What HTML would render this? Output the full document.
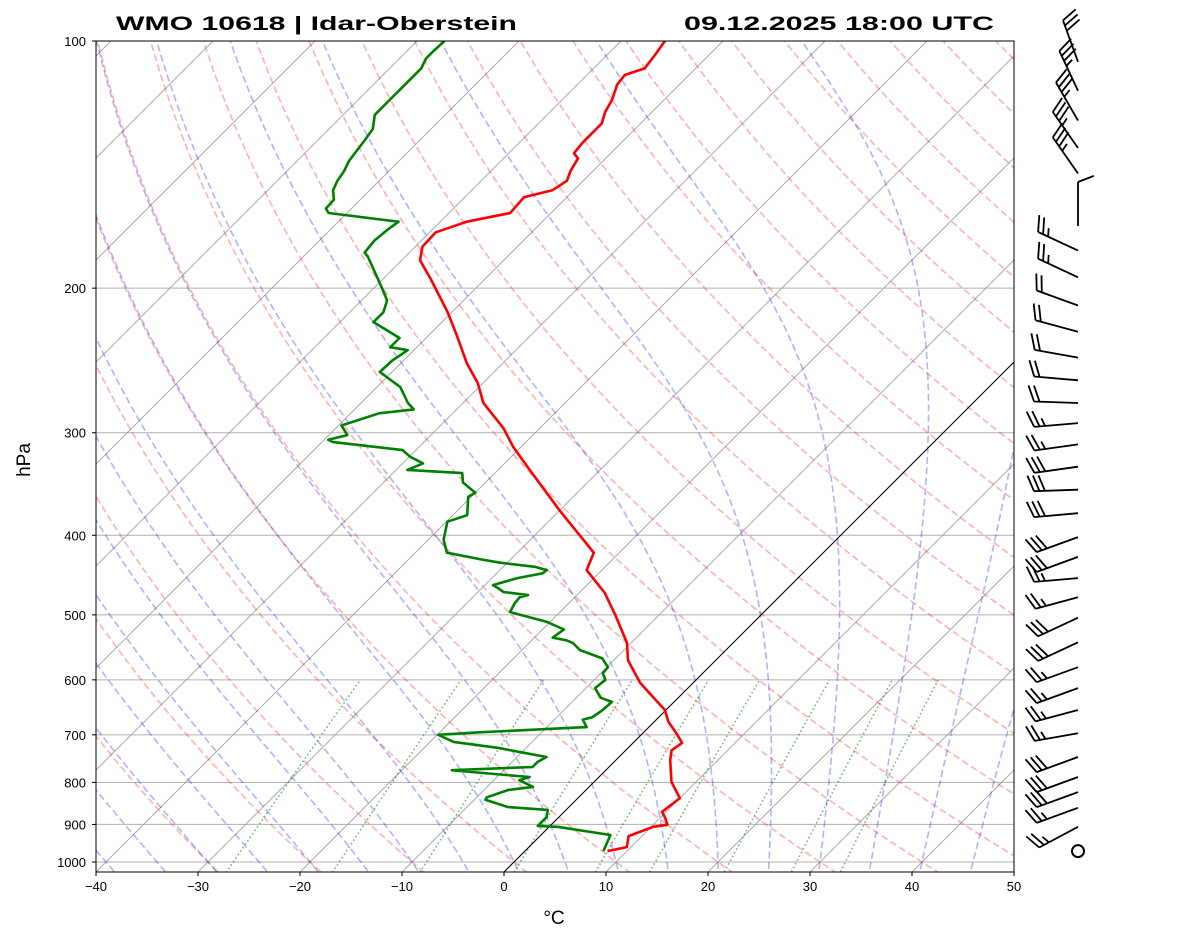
<!DOCTYPE html>
<html><head><meta charset="utf-8"><title>Skew-T WMO 10618</title>
<style>html,body{margin:0;padding:0;background:#fff;}svg{display:block;font-family:"Liberation Sans",sans-serif;}</style>
</head><body>
<svg id="chart" xmlns="http://www.w3.org/2000/svg" width="1181" height="941" viewBox="0 0 1181 941">
<defs><clipPath id="plotclip"><rect x="96" y="41" width="918" height="831"/></clipPath></defs>
<rect x="0" y="0" width="1181" height="941" fill="#fff"/>
<g id="bg" clip-path="url(#plotclip)"></g>
<g id="profiles" clip-path="url(#plotclip)"></g>
<rect x="96" y="41" width="918" height="831" fill="none" stroke="#000" stroke-width="1"/>
<g id="axes"></g>
<g id="barbs"></g>
<text x="116" y="30" font-size="19" font-weight="bold" textLength="401" lengthAdjust="spacingAndGlyphs">WMO 10618 | Idar-Oberstein</text>
<text x="994" y="30" font-size="19" font-weight="bold" text-anchor="end" textLength="310" lengthAdjust="spacingAndGlyphs">09.12.2025 18:00 UTC</text>
<text x="554" y="924" font-size="19" text-anchor="middle">°C</text>
<text x="0" y="0" font-size="19" text-anchor="middle" transform="translate(30,460) rotate(-90)">hPa</text>
</svg>
<script>
const tempP=[970,959,930,906,901,882,869,836,799,751,731,716,697,675,653,630,605,568,541,500,470,441,420,405,373,333,312,296,276,261,247,229,214,195,185,178,171,166,162,155,152,148,144,139,137,133,126,122,118,113,110,108,104,100];
const tempT=[8.1,9.6,8.7,10.2,11.4,10.4,9.6,10.0,7.6,5.3,4.5,4.8,3.3,1.4,-0.1,-2.5,-5.2,-8.6,-10.4,-14.3,-17.5,-21.5,-22.5,-24.8,-30.0,-36.9,-40.8,-43.6,-48.0,-50.5,-53.5,-57.1,-60.4,-65.3,-68.2,-69.3,-69.4,-67.4,-64.0,-64.2,-62.1,-61.6,-62.2,-62.7,-63.6,-63.8,-63.8,-64.6,-65.1,-66.1,-66.3,-65.0,-65.3,-65.7];
const dewP=[970,927,906,904,882,864,857,840,834,817,810,795,788,779,773,766,755,745,736,726,714,700,695,685,671,666,653,638,631,614,600,589,579,565,552,541,537,533,521,510,500,496,484,476,473,469,464,460,451,445,441,437,432,428,420,405,385,378,359,355,345,336,333,327,321,315,308,306,302,294,284,281,276,264,253,245,238,236,230,220,214,207,200,183,181,175,170,166,162,160,156,152,148,144,140,132,128,123,118,115,112,108,105,103,100];
const dewT=[7.7,6.8,0.8,-1.2,-1.2,-1.8,-6.0,-8.9,-9.0,-7.6,-5.5,-7.5,-6.8,-11.8,-15.1,-7.5,-7.5,-7.1,-9.8,-12.8,-17.7,-19.9,-16.1,-6.1,-7.2,-6.5,-6.2,-6.1,-7.6,-9.1,-8.9,-9.8,-9.9,-11.3,-14.3,-15.7,-16.6,-18.2,-17.9,-20.3,-23.6,-24.9,-25.3,-25.4,-24.8,-27.5,-28.4,-29.2,-27.5,-25.5,-25.4,-26.9,-30.7,-32.9,-36.9,-38.5,-39.9,-38.6,-40.3,-40.0,-42.2,-43.2,-48.9,-48.0,-49.9,-51.3,-58.9,-59.6,-58.2,-59.7,-57.2,-54.2,-55.4,-57.7,-61.2,-61.1,-60.6,-62.6,-62.6,-66.7,-66.7,-67.5,-69.2,-73.7,-74.4,-74.6,-74.4,-74.1,-81.8,-82.5,-82.6,-83.6,-84.1,-84.4,-84.9,-85.4,-85.7,-86.9,-86.9,-86.9,-86.9,-86.9,-87.4,-87.4,-87.3];
const barbP=[970,906,859,822,788,745,697,653,614,579,540,504,476,451,425,402,376,352,330,310,292,276,259,243,226,210,194,180,168,145,135,125,115,106];
const barbDir=[0,242,250,250,250,250,260,255,250,250,245,245,255,265,250,250,265,268,262,262,265,272,275,280,285,290,295,295,360,325,325,330,335,340];
const barbSpd=[0,25,25,30,30,30,25,25,25,25,30,30,25,25,30,30,30,30,30,25,25,20,20,20,20,20,25,25,10,35,35,35,35,30];
const xTicks=[-40,-30,-20,-10,0,10,20,30,40,50];
const yTicks=[100,200,300,400,500,600,700,800,900,1000];
const dryTheta0=[-30,-20,-10,0,10,20,30,40,50,60,70,80,90,100,110,120,130,140,150,160,170,180,190,200];
const moistT0=[-40,-35,-30,-25,-20,-15,-10,-5,0,5,10,15,20,25,30,35,40,45,50];
const mixW=[0.0004,0.001,0.002,0.004,0.007,0.01,0.016,0.024,0.032];

const NS='http://www.w3.org/2000/svg';
const X0=96,X1=1014,Y0=41,Y1=872;
function yOf(p){return 862-821*Math.log10(1000/p);}
function xOf(T,p){return X0+(T+40)*10.2+(Y1-yOf(p));}
function mk(tag,attrs,parent){const e=document.createElementNS(NS,tag);for(const k in attrs)e.setAttribute(k,attrs[k]);parent.appendChild(e);return e;}
function pathD(pts){return pts.map((q,i)=>(i?'L':'M')+q[0].toFixed(1)+','+q[1].toFixed(1)).join('');}
const bg=document.getElementById('bg'),prof=document.getElementById('profiles'),axes=document.getElementById('axes'),barbs=document.getElementById('barbs');

yTicks.forEach(p=>{const l=mk('line',{x1:X0,x2:X1,y1:yOf(p),y2:yOf(p),stroke:'#b0b0b0','stroke-width':1},bg);

});
for(let T=-140;T<=50;T+=10){const l=mk('line',{x1:xOf(T,1030),y1:yOf(1030),x2:xOf(T,90),y2:yOf(90),stroke:'#a0a0a0','stroke-width':0.9},bg);

}
dryTheta0.forEach(t0=>{const th=t0+273.15;const pts=[];for(let p=1050;p>=95;p-=10){pts.push([xOf(th*Math.pow(p/1000,0.2857)-273.15,p),yOf(p)]);}
const e=mk('path',{d:pathD(pts),fill:'none',stroke:'rgba(255,0,0,0.3)','stroke-width':1.6,'stroke-dasharray':'7,3.5'},bg);

});
function es(Tc){return 6.112*Math.exp(17.67*Tc/(Tc+243.5));}
function dTdp(T,p){const Tc=T-273.15;const e=es(Tc);const rs=0.622*e/(p-e);const Rd=287.04,Cp=1005.7,Lv=2.501e6;
return (Rd*T+Lv*rs)/(p*(Cp+Lv*Lv*rs*0.622/(Rd*T*T)));}
function integ(T,p0,p1,dp){const out=[];let p=p0;out.push([T,p]);while((dp<0&&p>p1)||(dp>0&&p<p1)){const k1=dTdp(T,p);const k2=dTdp(T+k1*dp,p+dp);T+=0.5*(k1+k2)*dp;p+=dp;out.push([T,p]);}return out;}
moistT0.forEach(t0=>{const up=integ(t0+273.15,1000,95,-5);const down=integ(t0+273.15,1000,1050,5).reverse();const all=down.concat(up.slice(1));
const e=mk('path',{d:pathD(all.map(q=>[xOf(q[0]-273.15,q[1]),yOf(q[1])])),fill:'none',stroke:'rgba(0,0,255,0.3)','stroke-width':1.6,'stroke-dasharray':'7,3.5'},bg);

});
mixW.forEach(w=>{const pts=[];for(let p=1050;p>=600;p-=10){const e=w*p/(0.622+w);const L=Math.log(e/6.112);const Td=243.5*L/(17.67-L);pts.push([xOf(Td,p),yOf(p)]);}
const e=mk('path',{d:pathD(pts),fill:'none',stroke:'rgba(0,128,0,0.55)','stroke-width':1.6,'stroke-dasharray':'1.6,2.6'},bg);

});
const z=mk('line',{x1:xOf(0,1030),y1:yOf(1030),x2:xOf(0,90),y2:yOf(90),stroke:'#000','stroke-width':1},bg);


const tp=mk('path',{d:pathD(tempP.map((p,i)=>[xOf(tempT[i],p),yOf(p)])),fill:'none',stroke:'#ff0000','stroke-width':2.6,'stroke-linejoin':'round'},prof);


const dp=mk('path',{d:pathD(dewP.map((p,i)=>[xOf(dewT[i],p),yOf(p)])),fill:'none',stroke:'#008000','stroke-width':2.6,'stroke-linejoin':'round'},prof);


xTicks.forEach(T=>{const x=X0+(T+40)*10.2;mk('line',{x1:x,x2:x,y1:Y1,y2:Y1+4,stroke:'#000'},axes);
const t=mk('text',{x:x,y:891,'font-size':13,'text-anchor':'middle'},axes);t.textContent=T<0?'\u2212'+(-T):String(T);

});
yTicks.forEach(p=>{const y=yOf(p);mk('line',{x1:X0-4,x2:X0,y1:y,y2:y,stroke:'#000'},axes);
const t=mk('text',{x:86,y:y+5,'font-size':13,'text-anchor':'end'},axes);t.textContent=String(p);

});
const BX=1078,SH=44,FL=17,SP=5.5;
barbP.forEach((p,i)=>{const y=yOf(p);const s=barbSpd[i];
if(s<2.5){const c=mk('circle',{cx:BX,cy:y,r:6,fill:'none',stroke:'#000','stroke-width':2},barbs);

return;}
const d=barbDir[i]*Math.PI/180;const ux=Math.sin(d),uy=-Math.cos(d);const px=-uy,py=ux;
const tx=BX+ux*SH,ty=y+uy*SH;let dd='M'+BX+','+y.toFixed(1)+'L'+tx.toFixed(1)+','+ty.toFixed(1);
let rem=Math.round(s/5)*5;let k=0;
while(rem>=10){const sx=tx-ux*SP*k,sy=ty-uy*SP*k;dd+='M'+sx.toFixed(1)+','+sy.toFixed(1)+'L'+(sx+px*FL*0.93+ux*FL*0.36).toFixed(1)+','+(sy+py*FL*0.93+uy*FL*0.36).toFixed(1);rem-=10;k++;}
if(rem>=5){if(k===0)k=1;const sx=tx-ux*SP*k,sy=ty-uy*SP*k;const h=FL/2;dd+='M'+sx.toFixed(1)+','+sy.toFixed(1)+'L'+(sx+px*h*0.93+ux*h*0.36).toFixed(1)+','+(sy+py*h*0.93+uy*h*0.36).toFixed(1);}
const b=mk('path',{d:dd,fill:'none',stroke:'#000','stroke-width':1.8},barbs);

});
</script>
</body></html>
